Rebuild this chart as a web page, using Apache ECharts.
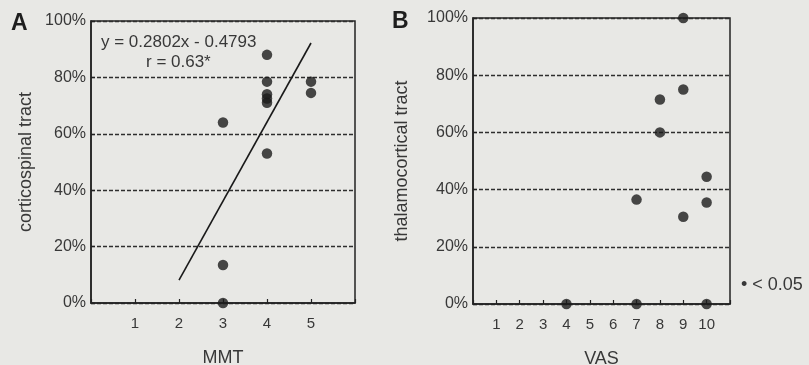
<!DOCTYPE html>
<html>
<head>
<meta charset="utf-8">
<script src="https://cdn.jsdelivr.net/npm/echarts@6/dist/echarts.min.js"></script>
<style>
html,body{margin:0;padding:0;background:#e8e8e5;}
#c{width:809px;height:365px;}
</style>
</head>
<body>
<div id="c"></div>
<script>
// Panel A: MMT vs corticospinal tract (%)
const mmtX = [3, 3, 3, 4, 4, 4, 4, 4, 4, 5, 5];
const cstY = [0, 13.5, 64, 88, 78.5, 74, 72.5, 71, 53, 78.5, 74.5];
// Regression line end points
const fitX = [2, 5];
const fitY = [8.1, 92.2];
// Panel B: VAS vs thalamocortical tract (%)
const vasX = [4, 7, 10, 9, 9, 8, 8, 10, 7, 10, 9];
const tctY = [0, 0, 0, 100, 75, 71.5, 60, 44.5, 36.5, 35.5, 30.5];
// Tick labels
const mmtTicks = [1, 2, 3, 4, 5];
const vasTicks = [1, 2, 3, 4, 5, 6, 7, 8, 9, 10];
const pctTicks = [0, 20, 40, 60, 80, 100];

const FONT = "'Liberation Sans', Arial, sans-serif";
const TXT = '#383838';
const INK = '#222222';

function zip(xs, ys) { return xs.map((x, i) => [x, ys[i]]); }

function xAxisCfg(gi, max, ticks, name) {
  return {
    gridIndex: gi, type: 'value', min: 0, max: max, interval: 1,
    name: name, nameLocation: 'middle', nameGap: 46,
    nameTextStyle: { fontFamily: FONT, fontSize: 18, color: TXT },
    axisLine: { show: true, lineStyle: { color: INK, width: 1.5 } },
    axisTick: { show: true, inside: true, length: 4, lineStyle: { color: INK, width: 1.2 } },
    axisLabel: {
      margin: 13, fontFamily: FONT, fontSize: 15, color: TXT,
      formatter: v => ticks.indexOf(v) >= 0 ? String(v) : ''
    },
    splitLine: { show: false }
  };
}
function yAxisCfg(gi, name, gap) {
  return {
    gridIndex: gi, type: 'value', min: 0, max: 100, interval: 20,
    name: name, nameLocation: 'middle', nameGap: gap, nameRotate: 90,
    nameTextStyle: { fontFamily: FONT, fontSize: 18, color: TXT },
    axisLine: { show: true, lineStyle: { color: INK, width: 1.5 } },
    axisTick: { show: true, inside: true, length: 4, lineStyle: { color: INK, width: 1.2 } },
    axisLabel: {
      margin: 5, fontFamily: FONT, fontSize: 16, color: TXT,
      formatter: v => pctTicks.indexOf(v) >= 0 ? v + '%' : ''
    },
    splitLine: { show: true, lineStyle: { color: '#2e2e2e', width: 1.3, type: [4, 2] } }
  };
}

const chart = echarts.init(document.getElementById('c'), null, { renderer: 'canvas' });
chart.setOption({
  backgroundColor: '#e8e8e5',
  animation: false,
  grid: [
    { left: 91, top: 21, width: 264, height: 282, show: true, borderColor: INK, borderWidth: 1.5, backgroundColor: 'transparent', containLabel: false, outerBoundsMode: 'none' },
    { left: 473, top: 18, width: 257, height: 286, show: true, borderColor: INK, borderWidth: 1.5, backgroundColor: 'transparent', containLabel: false, outerBoundsMode: 'none' }
  ],
  xAxis: [xAxisCfg(0, 6, mmtTicks, 'MMT'), xAxisCfg(1, 11, vasTicks, 'VAS')],
  yAxis: [yAxisCfg(0, 'corticospinal tract', 56), yAxisCfg(1, 'thalamocortical tract', 62)],
  series: [
    {
      type: 'line', xAxisIndex: 0, yAxisIndex: 0, data: zip(fitX, fitY),
      symbol: 'none', lineStyle: { color: '#1a1a1a', width: 1.6 }, silent: true, clip: false
    },
    {
      type: 'scatter', xAxisIndex: 0, yAxisIndex: 0, data: zip(mmtX, cstY),
      symbolSize: 10.5, itemStyle: { color: '#1c1c1c' }, clip: false, z: 5
    },
    {
      type: 'scatter', xAxisIndex: 1, yAxisIndex: 1, data: zip(vasX, tctY),
      symbolSize: 10.5, itemStyle: { color: '#1c1c1c' }, clip: false, z: 5
    }
  ],
  graphic: [
    { type: 'text', left: 11, top: 12, style: { text: 'A', font: "bold 23px " + FONT, fill: '#1e1e1e' } },
    { type: 'text', left: 392, top: 10, style: { text: 'B', font: "bold 23px " + FONT, fill: '#1e1e1e' } },
    { type: 'text', left: 101, top: 34, style: { text: 'y = 0.2802x - 0.4793', font: "17px " + FONT, fill: TXT } },
    { type: 'text', left: 146, top: 54, style: { text: 'r = 0.63*', font: "17px " + FONT, fill: TXT } },
    { type: 'text', left: 741, top: 276, style: { text: '\u2022 < 0.05', font: "18px " + FONT, fill: TXT } }
  ]
});
</script>
</body>
</html>
